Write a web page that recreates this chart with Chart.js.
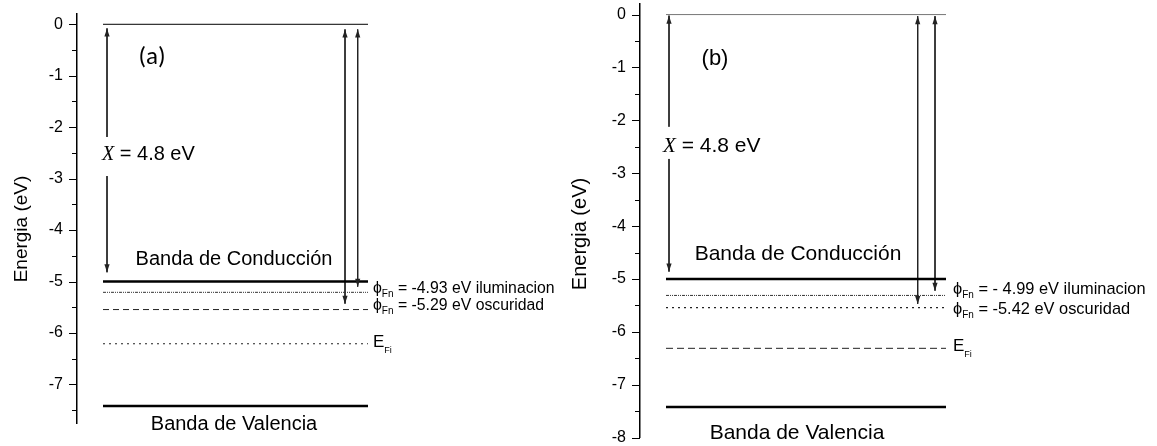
<!DOCTYPE html>
<html><head><meta charset="utf-8">
<script src="https://cdn.jsdelivr.net/npm/chart.js@4.4.1/dist/chart.umd.min.js"></script>
<style>
html,body{margin:0;padding:0;background:#fff;width:1157px;height:446px;overflow:hidden}
#wa{position:absolute;left:0;top:0;width:560px;height:446px}
#wb{position:absolute;left:560px;top:0;width:597px;height:446px}
</style></head><body>
<div id="wa"><canvas id="ca"></canvas></div>
<div id="wb"><canvas id="cb"></canvas></div>
<script>
// ---------------- data (energies in eV) ----------------
const levelNames = ['Vacío', 'Banda de Conducción', 'φFn iluminación', 'φFn oscuridad', 'EFi', 'Banda de Valencia'];
const levelsA = [0, -5, -5.21, -5.545, -6.21, -7.42];
const levelsB = [0, -5, -5.31, -5.54, -6.31, -7.42];
const chiValue = 4.8;
// electron-affinity arrow: top tip, end of upper part, start of lower part, bottom tip
const chiArrowA = [-0.08, -2.19, -2.95, -4.82];
const chiArrowB = [-0.02, -2.12, -2.73, -4.86];
// work-function arrows: [top, bottom]
const phiArrowsA = [[-0.1, -5.43], [-0.1, -5.1]];
const phiArrowsB = [[-0.03, -5.47], [-0.03, -5.22]];
const phiFnTextA = ['-4.93', '-5.29'];
const phiFnTextB = ['- 4.99', '-5.42'];
const yRangeA = [-7.75, 0.2];
const yRangeB = [-8, 0.2];
const yStep = 0.5;

// ---------------- helpers ----------------
const isInt = v => Math.abs(v - Math.round(v)) < 1e-6;
const SANS = '"Liberation Sans", Arial, sans-serif';

function drawRich(ctx, x, y, parts, align) {
  let total = 0;
  parts.forEach(p => { ctx.font = p.font; p.w = ctx.measureText(p.t).width; total += p.w; });
  let cx = align === 'center' ? x - total / 2 : x;
  ctx.textAlign = 'left';
  ctx.textBaseline = 'middle';
  parts.forEach(p => { ctx.font = p.font; ctx.fillStyle = '#000'; ctx.fillText(p.t, cx, y + (p.dy || 0)); cx += p.w; });
}

const decor = {
  id: 'decor',
  afterDraw(chart) {
    const cfg = chart.options.plugins.decor;
    const {ctx} = chart;
    const x = chart.scales.x, y = chart.scales.y;
    ctx.save();
    // major and minor ticks on the y axis
    ctx.strokeStyle = '#000'; ctx.lineWidth = 1;
    const ax = y.right;
    y.ticks.forEach(t => {
      const len = isInt(t.value) ? cfg.majorLen : cfg.minorLen;
      const py = Math.round(y.getPixelForValue(t.value)) + 0.5;
      ctx.beginPath(); ctx.moveTo(ax - len, py); ctx.lineTo(ax, py); ctx.stroke();
    });
    // arrowheads
    chart.data.datasets.forEach((ds, i) => {
      if (!ds.arrow) return;
      const pts = chart.getDatasetMeta(i).data.filter(p => !p.skip);
      if (pts.length < 2) return;
      const a = pts[0], b = pts[pts.length - 1];
      ctx.fillStyle = ds.borderColor;
      const L = 8, H = 2.6;
      ctx.beginPath(); ctx.moveTo(a.x, a.y); ctx.lineTo(a.x - H, a.y + L); ctx.lineTo(a.x + H, a.y + L); ctx.closePath(); ctx.fill();
      ctx.beginPath(); ctx.moveTo(b.x, b.y); ctx.lineTo(b.x - H, b.y - L); ctx.lineTo(b.x + H, b.y - L); ctx.closePath(); ctx.fill();
    });
    // texts
    cfg.texts.forEach(tx => drawRich(ctx, x.getPixelForValue(tx.x), y.getPixelForValue(tx.y), tx.parts, tx.align));
    // y title
    ctx.translate(cfg.yTitle.x, cfg.yTitle.y);
    ctx.rotate(-Math.PI / 2);
    ctx.font = cfg.yTitle.font; ctx.fillStyle = '#000';
    ctx.textAlign = 'center'; ctx.textBaseline = 'middle';
    ctx.fillText('Energia (eV)', 0, 0);
    ctx.restore();
  }
};

function buildChart(canvasId, p) {
  const levels = p.levels;
  const ds = [];
  const styles = p.styles;
  levels.forEach((v, i) => {
    ds.push({
      label: levelNames[i],
      data: [{x: p.lineX[0], y: v}, {x: p.lineX[1], y: v}],
      borderColor: styles[i].color, borderWidth: styles[i].width, borderDash: styles[i].dash || [],
      pointRadius: 0, fill: false
    });
  });
  const c = p.chiArrow;
  ds.push({
    label: 'X = ' + chiValue + ' eV', arrow: true,
    data: [{x: p.chiX, y: c[0]}, {x: p.chiX, y: c[1]}, {x: p.chiX, y: null}, {x: p.chiX, y: c[2]}, {x: p.chiX, y: c[3]}],
    borderColor: '#222', borderWidth: 1, pointRadius: 0, spanGaps: false
  });
  p.phiArrows.forEach((a, k) => {
    ds.push({
      label: 'φ arrow ' + k, arrow: true,
      data: [{x: p.phiX[k], y: a[0]}, {x: p.phiX[k], y: a[1]}],
      borderColor: '#222', borderWidth: 1, pointRadius: 0
    });
  });
  return new Chart(document.getElementById(canvasId), {
    type: 'line',
    data: {datasets: ds},
    plugins: [decor],
    options: {
      responsive: true, maintainAspectRatio: false, animation: false, events: [],
      layout: {padding: p.padding},
      plugins: {
        legend: {display: false}, tooltip: {enabled: false},
        decor: {minorLen: 5, majorLen: 8, texts: p.texts, yTitle: p.yTitle}
      },
      scales: {
        x: {type: 'linear', display: false, min: 0, max: p.xMax},
        y: {
          type: 'linear', min: p.yRange[0], max: p.yRange[1],
          afterFit: s => { s.width = p.axisX; s.paddingTop = 0; s.paddingBottom = 0; },
          border: {display: true, color: '#000', width: 1.5},
          grid: {drawOnChartArea: false, drawTicks: true, tickLength: 8, tickColor: 'rgba(0,0,0,0)'},
          ticks: {stepSize: yStep, includeBounds: false, autoSkip: false, padding: 6, color: '#000',
                  font: {family: SANS, size: 16},
                  callback: v => isInt(v) ? String(Math.round(v)) : ''}
        }
      }
    }
  });
}

function fnLabel(val, word, size) {
  return [
    {t: 'ϕ', font: size + 'px ' + SANS},
    {t: 'Fn', font: '10px ' + SANS, dy: 6},
    {t: ' = ' + val + ' eV ' + word, font: size + 'px ' + SANS}
  ];
}
function chiLabel(size) {
  return [
    {t: 'X', font: 'italic ' + size + 'px "Liberation Serif", serif'},
    {t: ' = ' + chiValue + ' eV', font: size + 'px ' + SANS}
  ];
}
const efiLabel = [{t: 'E', font: '17px ' + SANS}, {t: 'Fi', font: '9px ' + SANS, dy: 8}];

buildChart('ca', {
  levels: levelsA, lineX: [26, 291], chiArrow: chiArrowA, chiX: 30, phiArrows: phiArrowsA, phiX: [268, 280.7],
  xMax: 482, axisX: 77, yRange: yRangeA, padding: {left: 0, top: 14, bottom: 23, right: 1},
  styles: [
    {color: '#000', width: 1},
    {color: '#000', width: 2.5},
    {color: '#333', width: 1, dash: [3, 1, 1, 1, 1, 1]},
    {color: '#222', width: 1, dash: [6, 4]},
    {color: '#222', width: 1.2, dash: [2, 4]},
    {color: '#000', width: 2.5}
  ],
  texts: [
    {x: 75, y: -0.655, align: 'center', parts: [{t: '(a)', font: '25px Carlito, Lato, sans-serif'}]},
    {x: 157, y: -4.58, align: 'center', parts: [{t: 'Banda de Conducción', font: '20px ' + SANS}]},
    {x: 157, y: -7.77, align: 'center', parts: [{t: 'Banda de Valencia', font: '20px ' + SANS}]},
    {x: 25, y: -2.54, align: 'left', parts: chiLabel(20)},
    {x: 296, y: -5.13, align: 'left', parts: fnLabel(phiFnTextA[0], 'iluminacion', 15.8)},
    {x: 296, y: -5.46, align: 'left', parts: fnLabel(phiFnTextA[1], 'oscuridad', 15.8)},
    {x: 296, y: -6.18, align: 'left', parts: efiLabel}
  ],
  yTitle: {x: 22, y: 229, font: '19px ' + SANS}
});

buildChart('cb', {
  levels: levelsB, lineX: [26, 306], chiArrow: chiArrowB, chiX: 29, phiArrows: phiArrowsB, phiX: [277.7, 295],
  xMax: 516, axisX: 80, yRange: yRangeB, padding: {left: 0, top: 4, bottom: 8.3, right: 1},
  styles: [
    {color: '#777', width: 1},
    {color: '#000', width: 2.5},
    {color: '#333', width: 1, dash: [3, 1, 1, 1, 1, 1]},
    {color: '#222', width: 1.2, dash: [2, 4]},
    {color: '#222', width: 1, dash: [7, 4]},
    {color: '#000', width: 2.5}
  ],
  texts: [
    {x: 75, y: -0.83, align: 'center', parts: [{t: '(b)', font: '22px ' + SANS}]},
    {x: 158, y: -4.54, align: 'center', parts: [{t: 'Banda de Conducción', font: '21px ' + SANS}]},
    {x: 157, y: -7.91, align: 'center', parts: [{t: 'Banda de Valencia', font: '21px ' + SANS}]},
    {x: 23, y: -2.49, align: 'left', parts: chiLabel(21)},
    {x: 313, y: -5.2, align: 'left', parts: fnLabel(phiFnTextB[0], 'iluminacion', 16.4)},
    {x: 313, y: -5.58, align: 'left', parts: fnLabel(phiFnTextB[1], 'oscuridad', 16.4)},
    {x: 313, y: -6.28, align: 'left', parts: efiLabel}
  ],
  yTitle: {x: 20, y: 234, font: '20px ' + SANS}
});
</script>
</body></html>
